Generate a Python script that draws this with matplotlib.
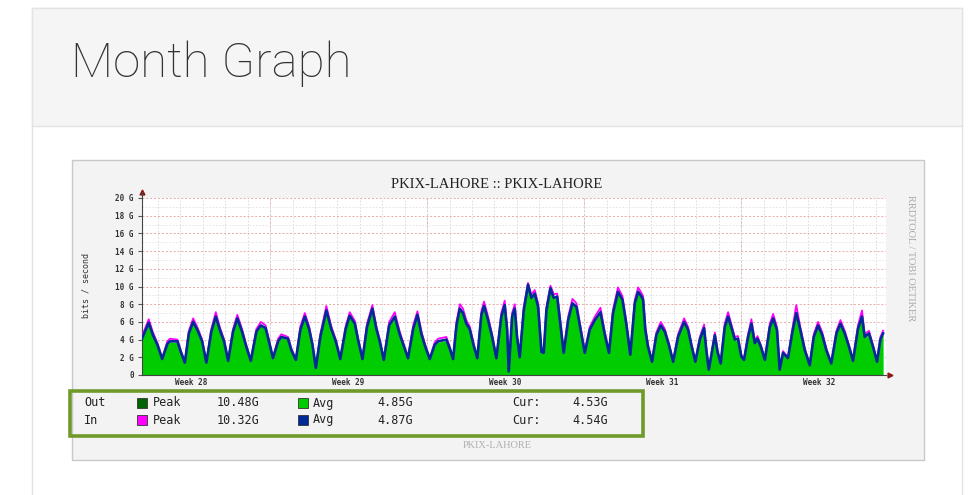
import matplotlib
matplotlib.use("Agg")
import matplotlib.pyplot as plt
from matplotlib.patches import Rectangle

# time in days since Monday of week 28, values in Gbit/s
times = [
    1.29, 1.59, 1.78, 1.98, 2.19, 2.42, 2.53, 2.87, 3.02, 3.20,
    3.38, 3.57, 3.76, 3.97, 4.16, 4.38, 4.58, 4.76, 4.95, 5.13,
    5.35, 5.54, 5.75, 5.94, 6.14, 6.39, 6.59, 6.80, 6.90, 7.13,
    7.36, 7.50, 7.80, 7.95, 8.15, 8.35, 8.55, 8.74, 8.89, 9.04,
    9.24, 9.51, 9.73, 9.93, 10.13, 10.37, 10.55, 10.78, 10.92, 11.12,
    11.32, 11.56, 11.74, 11.89, 12.07, 12.31, 12.56, 12.78, 12.97, 13.15,
    13.38, 13.57, 13.75, 13.92, 14.12, 14.34, 14.49, 14.86, 15.01, 15.16,
    15.31, 15.46, 15.60, 15.75, 15.90, 16.09, 16.24, 16.42, 16.54, 16.72,
    16.90, 17.09, 17.31, 17.46, 17.57, 17.64, 17.79, 17.91, 18.01, 18.13,
    18.31, 18.50, 18.65, 18.80, 18.95, 19.10, 19.20, 19.32, 19.50, 19.65,
    19.80, 19.92, 20.09, 20.29, 20.48, 20.66, 20.81, 21.03, 21.25, 21.48,
    21.73, 21.92, 22.11, 22.29, 22.51, 22.71, 22.88, 23.06, 23.26, 23.41,
    23.55, 23.63, 23.73, 23.85, 24.03, 24.22, 24.42, 24.60, 24.78, 24.97,
    25.19, 25.46, 25.64, 25.78, 25.96, 26.16, 26.35, 26.45, 26.56, 26.71,
    26.83, 26.95, 27.09, 27.27, 27.42, 27.60, 27.72, 27.86, 28.01, 28.13,
    28.31, 28.46, 28.61, 28.73, 28.88, 29.06, 29.28, 29.43, 29.60, 29.72,
    29.87, 30.09, 30.29, 30.46, 30.64, 30.84, 31.06, 31.24, 31.43, 31.62,
    31.80, 32.02, 32.25, 32.43, 32.62, 32.81, 32.99, 33.21, 33.39, 33.51,
    33.70, 33.88, 34.06, 34.21, 34.33,
]

in_avg = [
    4.1, 5.9, 4.5, 3.4, 1.8, 3.5, 3.8, 3.8, 2.6, 1.4,
    4.7, 6.0, 5.1, 3.8, 1.4, 4.9, 6.6, 5.1, 3.8, 1.6,
    4.9, 6.4, 4.9, 3.2, 1.6, 4.9, 5.6, 5.3, 4.3, 1.9,
    3.8, 4.3, 4.1, 2.8, 1.7, 5.1, 6.6, 5.2, 3.4, 0.8,
    4.3, 7.3, 5.2, 3.8, 1.8, 5.2, 6.7, 5.8, 4.0, 1.8,
    5.4, 7.5, 5.2, 3.8, 1.7, 5.6, 6.6, 4.6, 3.2, 1.9,
    5.2, 6.8, 4.6, 3.2, 1.8, 3.4, 3.8, 4.0, 3.0, 1.8,
    5.6, 7.5, 7.0, 5.8, 5.2, 3.2, 1.9, 6.8, 7.8, 6.2,
    4.3, 1.9, 6.6, 7.9, 5.1, 0.4, 6.6, 7.5, 4.3, 2.0,
    7.3, 10.2, 8.7, 9.2, 7.7, 2.6, 2.5, 7.3, 9.8, 8.7,
    8.85, 6.2, 2.5, 6.2, 8.1, 7.7, 5.6, 2.5, 5.1, 6.2,
    7.1, 4.6, 2.5, 7.0, 9.4, 8.5, 5.8, 2.3, 8.1, 9.4,
    8.9, 8.5, 5.1, 3.2, 1.5, 4.5, 5.6, 4.9, 3.4, 1.5,
    4.3, 6.0, 5.1, 3.4, 1.5, 4.0, 5.3, 2.8, 0.6, 2.8,
    4.5, 2.6, 1.3, 5.4, 6.6, 5.1, 4.0, 4.1, 2.1, 1.7,
    4.3, 5.8, 3.6, 4.1, 3.2, 1.7, 5.4, 6.4, 5.1, 0.6,
    2.5, 1.9, 4.9, 7.0, 5.1, 2.8, 1.1, 4.3, 5.6, 4.5,
    2.8, 1.3, 4.7, 5.8, 4.7, 3.2, 1.6, 5.2, 6.6, 4.3,
    4.7, 3.2, 1.5, 4.0, 4.7,
]

in_peak = [
    4.4, 6.3, 4.8, 3.6, 1.9, 3.8, 4.1, 4.0, 2.8, 1.5,
    5.0, 6.4, 5.4, 4.0, 1.5, 5.2, 7.1, 5.4, 4.0, 1.7,
    5.2, 6.8, 5.2, 3.4, 1.7, 5.2, 6.0, 5.6, 4.5, 2.0,
    4.1, 4.6, 4.3, 3.0, 1.8, 5.5, 7.0, 5.5, 3.6, 0.9,
    4.6, 7.8, 5.5, 4.0, 1.9, 5.5, 7.1, 6.1, 4.2, 1.9,
    5.8, 7.9, 5.5, 4.0, 1.8, 6.0, 7.1, 4.9, 3.4, 2.0,
    5.6, 7.2, 4.9, 3.4, 1.9, 3.7, 4.1, 4.3, 3.2, 1.9,
    6.0, 8.0, 7.5, 6.2, 5.5, 3.4, 2.0, 7.2, 8.3, 6.6,
    4.6, 2.0, 7.0, 8.4, 5.4, 0.5, 7.0, 8.0, 4.6, 2.1,
    7.7, 10.4, 9.1, 9.6, 8.1, 2.8, 2.7, 7.7, 10.1, 9.1,
    9.2, 6.6, 2.7, 6.6, 8.6, 8.1, 5.9, 2.7, 5.4, 6.6,
    7.6, 4.9, 2.7, 7.4, 9.9, 8.9, 6.1, 2.4, 8.5, 9.9,
    9.3, 8.9, 5.4, 3.4, 1.6, 4.8, 6.0, 5.2, 3.6, 1.6,
    4.6, 6.4, 5.4, 3.6, 1.6, 4.3, 5.7, 3.0, 0.7, 3.0,
    4.8, 2.8, 1.4, 5.8, 7.1, 5.4, 4.3, 4.4, 2.3, 1.8,
    4.6, 6.3, 3.9, 4.4, 3.4, 1.8, 5.8, 6.9, 5.4, 0.7,
    2.7, 2.0, 5.3, 7.9, 5.4, 3.0, 1.2, 4.6, 6.0, 4.8,
    3.0, 1.4, 5.0, 6.2, 5.0, 3.4, 1.7, 5.6, 7.3, 4.6,
    5.0, 3.4, 1.6, 4.3, 5.0,
]

out_avg = [
    4.0, 5.8, 4.4, 3.3, 1.7, 3.4, 3.7, 3.7, 2.5, 1.3,
    4.6, 5.9, 5.0, 3.7, 1.3, 4.8, 6.5, 5.0, 3.7, 1.5,
    4.8, 6.3, 4.8, 3.1, 1.5, 4.8, 5.5, 5.2, 4.2, 1.8,
    3.7, 4.2, 4.0, 2.7, 1.6, 5.0, 6.5, 5.1, 3.3, 0.7,
    4.2, 7.2, 5.1, 3.7, 1.7, 5.1, 6.6, 5.7, 3.9, 1.7,
    5.3, 7.4, 5.1, 3.7, 1.6, 5.5, 6.5, 4.5, 3.1, 1.8,
    5.1, 6.7, 4.5, 3.1, 1.7, 3.3, 3.7, 3.9, 2.9, 1.7,
    5.5, 7.4, 6.9, 5.7, 5.1, 3.1, 1.8, 6.7, 7.7, 6.1,
    4.2, 1.8, 6.5, 7.8, 5.0, 0.3, 6.5, 7.4, 4.2, 1.9,
    7.2, 10.1, 8.6, 9.1, 7.6, 2.5, 2.4, 7.2, 9.7, 8.6,
    8.7, 6.1, 2.4, 6.1, 8.0, 7.6, 5.5, 2.4, 5.0, 6.1,
    7.0, 4.5, 2.4, 6.9, 9.3, 8.4, 5.7, 2.2, 8.0, 9.3,
    8.8, 8.4, 5.0, 3.1, 1.4, 4.4, 5.5, 4.8, 3.3, 1.4,
    4.2, 5.9, 5.0, 3.3, 1.4, 3.9, 5.2, 2.7, 0.5, 2.7,
    4.4, 2.5, 1.2, 5.3, 6.5, 5.0, 3.9, 4.0, 2.0, 1.6,
    4.2, 5.7, 3.5, 4.0, 3.1, 1.6, 5.3, 6.3, 5.0, 0.5,
    2.4, 1.8, 4.8, 6.9, 5.0, 2.7, 1.0, 4.2, 5.5, 4.4,
    2.7, 1.2, 4.6, 5.7, 4.6, 3.1, 1.5, 5.1, 6.5, 4.2,
    4.6, 3.1, 1.4, 3.9, 4.6,
]

week_starts = [7, 14, 21, 28]
week_centers = [3.5, 10.5, 17.5, 24.5, 31.5]
week_labels = ["Week 28", "Week 29", "Week 30", "Week 31", "Week 32"]
y_major = list(range(0, 21, 2))
y_labels = ["0"] + [f"{v} G" for v in y_major[1:]]

legend_rows = [
    ("Out", "#006400", "10.48G", "#00cc00", "4.85G", "4.53G"),
    ("In", "#ff00ff", "10.32G", "#002a97", "4.87G", "4.54G"),
]

W, H = 973, 495
fig = plt.figure(figsize=(W / 100, H / 100), dpi=100)
fig.patch.set_facecolor("white")


def box(x0, y0, x1, y1, **kw):
    r = Rectangle((x0 / W, 1 - y1 / H), (x1 - x0) / W, (y1 - y0) / H,
                  transform=fig.transFigure, **kw)
    fig.add_artist(r)
    return r


def ftext(x, y, s, **kw):
    fig.text(x / W, 1 - y / H, s, **kw)


# page card + header
box(32, 8, 962, 520, facecolor="white", edgecolor="#e3e3e3", lw=1, zorder=-5)
box(32, 8, 962, 126, facecolor="#f5f5f5", edgecolor="#e3e3e3", lw=1, zorder=-4)
ftext(71, 64, "Month Graph", fontsize=35.5, family="Roboto", fontweight="light",
      color="#333333", va="center", ha="left")

# rrd image frame
box(72, 160, 924, 460, facecolor="#f3f3f3", edgecolor="#c8c8c8", lw=1, zorder=-3)
ftext(497, 185, "PKIX-LAHORE :: PKIX-LAHORE", fontsize=10.5, family="Liberation Serif",
      color="#222222", ha="center", va="center")
ftext(911, 258, "RRDTOOL / TOBI OETIKER", fontsize=7.5, family="Liberation Serif",
      color="#aaaaaa", ha="center", va="center", rotation=270)
ftext(86, 286, "bits / second", fontsize=6, family="DejaVu Sans Mono",
      color="#333333", ha="center", va="center", rotation=90)
ftext(497, 446, "PKIX-LAHORE", fontsize=7.5, family="Liberation Serif",
      color="#b0b0b0", ha="center", va="center")

# plot area
ax = fig.add_axes([142 / W, 1 - 375 / H, 744 / W, 177 / H])
ax.set_facecolor("white")
ax.set_xlim(1.29, 34.46)
ax.set_ylim(0, 20)

ax.set_xticks(range(2, 35), minor=True)
ax.set_xticks(week_centers)
ax.set_xticklabels(week_labels, family="DejaVu Sans Mono", fontsize=5.5,
                   fontweight="bold", color="#333333")
ax.set_yticks(y_major)
ax.set_yticklabels(y_labels, family="DejaVu Sans Mono", fontsize=5.5,
                   fontweight="bold", color="#333333")
ax.set_yticks(range(1, 20, 2), minor=True)
ax.tick_params(axis="x", which="both", length=0, pad=2)
ax.tick_params(axis="y", which="major", length=3, color="#555555", pad=3)
ax.tick_params(axis="y", which="minor", length=0)

ax.grid(True, axis="x", which="minor", color="#d8d8d8", ls=(0, (2, 2)), lw=0.6)
ax.grid(True, axis="y", which="minor", color="#e2e2e2", ls=(0, (2, 2)), lw=0.6)
ax.grid(True, axis="y", which="major", color="#e9a9a9", ls=(0, (2, 2)), lw=0.7)
ax.set_axisbelow(True)
for ws in week_starts:
    ax.axvline(ws, color="#e9a9a9", ls=(0, (2, 2)), lw=0.7, zorder=0.5)

for side in ("top", "right"):
    ax.spines[side].set_visible(False)
for side in ("left", "bottom"):
    ax.spines[side].set_color("#444444")
    ax.spines[side].set_linewidth(0.8)

ax.fill_between(times, out_avg, 0, color="#00cc00", lw=0, zorder=2)
ax.plot(times, in_peak, color="#ff00ff", lw=1.3, zorder=3)
ax.plot(times, in_avg, color="#002a97", lw=1.9, zorder=4)

ax.plot([0], [1.035], marker="^", ms=3.5, color="#8b1a1a", transform=ax.transAxes,
        clip_on=False)
ax.plot([1.006], [0], marker=">", ms=3.5, color="#8b1a1a", transform=ax.transAxes,
        clip_on=False)
ax.plot([0, 0], [1.0, 1.035], color="#444444", lw=0.8, transform=ax.transAxes,
        clip_on=False)

# legend block
box(70, 391, 643, 436, facecolor="none", edgecolor="#6f9a2a", lw=2.6, zorder=5)
mono = dict(family="DejaVu Sans Mono", fontsize=8.5, color="#222222", va="center")
for i, (name, pk_col, pk_val, av_col, av_val, cur_val) in enumerate(legend_rows):
    y = 403 + i * 17
    ftext(84, y, name, **mono)
    box(137, y - 5, 147, y + 5, facecolor=pk_col, edgecolor="#333333", lw=0.6, zorder=5)
    ftext(153, y, "Peak", **mono)
    ftext(217, y, pk_val, **mono)
    box(298, y - 5, 308, y + 5, facecolor=av_col, edgecolor="#333333", lw=0.6, zorder=5)
    ftext(313, y, "Avg", **mono)
    ftext(377, y, av_val, **mono)
    ftext(512, y, "Cur:", **mono)
    ftext(572, y, cur_val, **mono)

fig.savefig("out.png", dpi=100)
